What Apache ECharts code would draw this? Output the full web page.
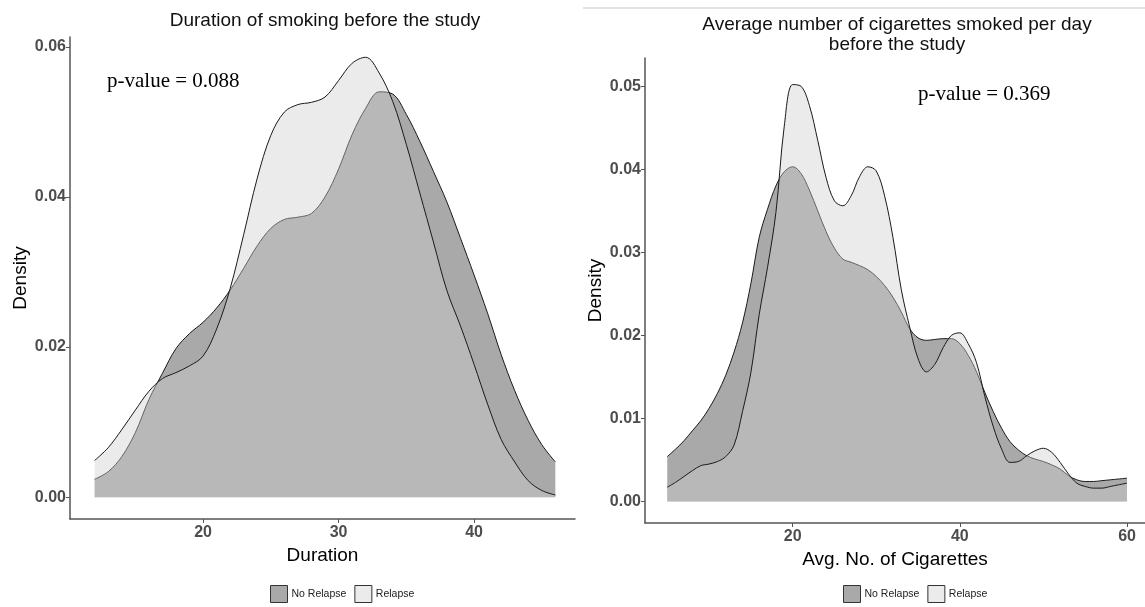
<!DOCTYPE html>
<html>
<head>
<meta charset="utf-8">
<script src="https://cdn.jsdelivr.net/npm/echarts@6/dist/echarts.min.js"></script>
<style>
html,body{margin:0;padding:0;background:#fff;}
#chart{width:1145px;height:607px;}
</style>
</head>
<body>
<div id="chart"></div>
<script>
// ---------- data ----------
var seriesNames = ['No Relapse', 'Relapse'];

// Panel 1: Duration of smoking
var durationX = [12,13,14,15,16,17,18,19,20,21,22,23,24,25,26,27,28,29,30,31,32,33,34,35,36,37,38,39,40,41,42,43,44,45,46];
var durationNoRelapse = [0.0024,0.0034,0.0054,0.0086,0.0130,0.0165,0.0198,0.0218,0.0233,0.0252,0.0276,0.0305,0.0335,0.0358,0.0370,0.0373,0.0378,0.0400,0.0437,0.0483,0.0518,0.0540,0.0537,0.0510,0.0474,0.0434,0.0393,0.0345,0.0296,0.0245,0.0190,0.0142,0.0102,0.0070,0.0047];
var durationRelapse = [0.0049,0.0066,0.0090,0.0116,0.0141,0.0158,0.0166,0.0175,0.0188,0.0224,0.0278,0.0350,0.0425,0.0482,0.0513,0.0523,0.0526,0.0533,0.0555,0.0578,0.0586,0.0565,0.0527,0.0470,0.0405,0.0340,0.0275,0.0228,0.0177,0.0124,0.0077,0.0047,0.0022,0.0009,0.0003];
var durationTicksX = [20, 30, 40];
var durationTicksY = [0, 0.02, 0.04, 0.06];

// Panel 2: Average number of cigarettes per day
var cigX = [5,6,7,8,9,10,11,12,13,14,15,16,17,18,19,20,21,22,23,24,25,26,27,28,29,30,31,32,33,34,35,36,37,38,39,40,41,42,43,44,45,46,47,48,49,50,51,52,53,54,55,56,57,58,59,60];
var cigNoRelapse = [0.0054,0.0063,0.0073,0.0085,0.0097,0.0112,0.0130,0.0152,0.0180,0.0215,0.0262,0.0318,0.0352,0.0380,0.0397,0.0403,0.0395,0.0375,0.0350,0.0325,0.0305,0.0292,0.0288,0.0284,0.0279,0.0271,0.0260,0.0246,0.0228,0.0208,0.0197,0.0194,0.0195,0.0196,0.0196,0.0190,0.0176,0.0156,0.0131,0.0108,0.0088,0.0072,0.0062,0.0055,0.0051,0.0048,0.0044,0.0039,0.0031,0.0026,0.0024,0.0024,0.0025,0.0026,0.0027,0.0028];
var cigRelapse = [0.0017,0.0023,0.0030,0.0037,0.0043,0.0045,0.0048,0.0054,0.0068,0.0108,0.0155,0.0225,0.0282,0.0348,0.0452,0.0502,0.0500,0.0477,0.0435,0.0390,0.0362,0.0356,0.0368,0.0391,0.0403,0.0398,0.0368,0.0318,0.0255,0.0210,0.0172,0.0156,0.0165,0.0185,0.0200,0.0203,0.0190,0.0167,0.0126,0.0090,0.0063,0.0047,0.0048,0.0055,0.0061,0.0064,0.0059,0.0047,0.0033,0.0022,0.0018,0.0016,0.0016,0.0018,0.0020,0.0022];
var cigTicksX = [20, 40, 60];
var cigTicksY = [0, 0.01, 0.02, 0.03, 0.04, 0.05];

var titles = ['Duration of smoking before the study', 'Average number of cigarettes smoked per day\nbefore the study'];
var xNames = ['Duration', 'Avg. No. of Cigarettes'];
var yName = 'Density';
var pValues = ['p-value = 0.088', 'p-value = 0.369'];

// ---------- styles ----------
var FONT = "'Liberation Sans', Arial, sans-serif";
var SERIF = "'Liberation Serif', 'Times New Roman', serif";
var darkFill = '#a9a9a9';
var lightLegend = '#ebebeb';
var lightArea = 'rgba(206,206,206,0.41)';
var outline = '#1a1a1a';

function zip(xs, ys) { return xs.map(function (x, i) { return [x, ys[i]]; }); }

function xAxisCfg(idx, min, max, ticks, name) {
  return {
    type: 'value', gridIndex: idx, min: min, max: max,
    name: name, nameLocation: 'middle', nameGap: 27,
    nameTextStyle: { fontFamily: FONT, fontSize: 19, color: '#000' },
    axisLine: { show: true, onZero: false, lineStyle: { color: '#555', width: 1.5 } },
    axisTick: { show: true, length: 4, customValues: ticks, lineStyle: { color: '#555', width: 1 } },
    axisLabel: { customValues: ticks, margin: 6, fontFamily: FONT, fontSize: 16, fontWeight: 'bold', color: '#4d4d4d' },
    splitLine: { show: false }
  };
}
function yAxisCfg(idx, min, max, ticks) {
  return {
    type: 'value', gridIndex: idx, min: min, max: max,
    name: yName, nameLocation: 'middle', nameGap: 40,
    nameTextStyle: { fontFamily: FONT, fontSize: 19, color: '#000' },
    axisLine: { show: true, onZero: false, lineStyle: { color: '#555', width: 1.5 } },
    axisTick: { show: true, length: 4, customValues: ticks, lineStyle: { color: '#555', width: 1 } },
    axisLabel: { customValues: ticks, margin: 4, fontFamily: FONT, fontSize: 16, fontWeight: 'bold', color: '#4d4d4d',
      formatter: function (v) { return v.toFixed(2); } },
    splitLine: { show: false }
  };
}
function areaSeries(name, idx, data, isDark) {
  return {
    name: name, type: 'line', xAxisIndex: idx, yAxisIndex: idx,
    data: data, smooth: 0.35, showSymbol: false, symbol: 'none',
    itemStyle: { color: isDark ? darkFill : lightLegend },
    lineStyle: { color: outline, width: 1 },
    areaStyle: { color: isDark ? darkFill : lightArea, opacity: 1 },
    silent: true, animation: false, z: isDark ? 2 : 3
  };
}
function legendCfg(left) {
  return {
    left: left, top: 580, icon: 'rect', itemWidth: 17, itemHeight: 17, itemGap: 8,
    textStyle: { fontFamily: FONT, fontSize: 10.5, color: '#222', padding: [0, 0, 0, -1] },
    data: [
      { name: seriesNames[0], itemStyle: { color: darkFill, borderColor: '#333', borderWidth: 1 } },
      { name: seriesNames[1], itemStyle: { color: lightLegend, borderColor: '#333', borderWidth: 1 } }
    ],
    selectedMode: false
  };
}

var chart = echarts.init(document.getElementById('chart'), null, { renderer: 'canvas' });
chart.setOption({
  backgroundColor: '#fff',
  animation: false,
  title: [
    { text: titles[0], left: 320, top: 6, textAlign: 'center',
      textStyle: { fontFamily: FONT, fontSize: 19, fontWeight: 'normal', color: '#111' } },
    { text: titles[1], left: 892, top: 10, textAlign: 'center',
      textStyle: { fontFamily: FONT, fontSize: 19, fontWeight: 'normal', color: '#111', lineHeight: 20 } }
  ],
  grid: [
    { left: 70, top: 37, width: 505, height: 482, containLabel: false },
    { left: 645, top: 58, width: 500, height: 465, containLabel: false }
  ],
  xAxis: [
    xAxisCfg(0, 10.18, 47.45, durationTicksX, xNames[0]),
    xAxisCfg(1, 2.34, 62.15, cigTicksX, xNames[1])
  ],
  yAxis: [
    yAxisCfg(0, -0.0029, 0.0613, durationTicksY),
    yAxisCfg(1, -0.0026, 0.0534, cigTicksY)
  ],
  legend: [legendCfg(265), legendCfg(838)],
  series: [
    areaSeries(seriesNames[0], 0, zip(durationX, durationNoRelapse), true),
    areaSeries(seriesNames[1], 0, zip(durationX, durationRelapse), false),
    areaSeries(seriesNames[0], 1, zip(cigX, cigNoRelapse), true),
    areaSeries(seriesNames[1], 1, zip(cigX, cigRelapse), false)
  ],
  graphic: [
    { type: 'line', shape: { x1: 583, y1: 8, x2: 1145, y2: 8 }, style: { stroke: '#d9d9d9', lineWidth: 1.5 } },
    { type: 'text', left: 107, top: 71, style: { text: pValues[0], font: '21px ' + SERIF, fill: '#000' } },
    { type: 'text', left: 918, top: 84, style: { text: pValues[1], font: '21px ' + SERIF, fill: '#000' } }
  ]
});
</script>
</body>
</html>
